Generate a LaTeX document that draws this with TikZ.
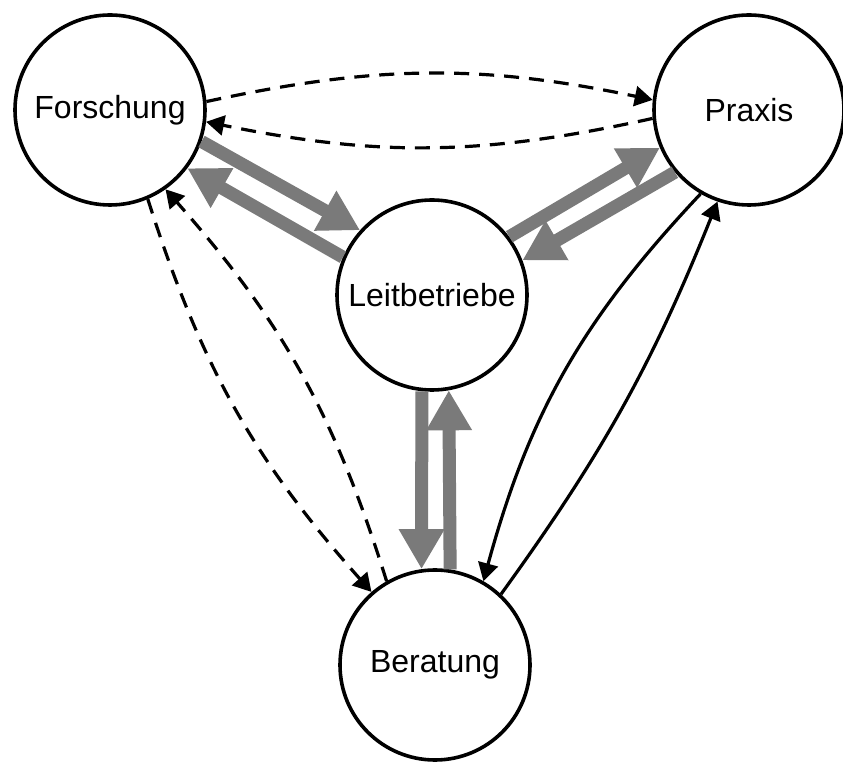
\documentclass[tikz,border=0pt]{standalone}
\usepackage{fontspec}
\setmainfont{Liberation Sans}
\usetikzlibrary{arrows.meta}
\definecolor{mygrey}{RGB}{122,122,122}

\begin{document}
\begin{tikzpicture}
    [x=1pt,y=1pt,
     actor/.style={circle,draw,line width=3.6pt,minimum size=190pt,inner sep=0pt,
                   font=\fontsize{32}{38}\selectfont},
     transfer/.style={mygrey,line width=13pt,-{Triangle[length=40pt,width=43pt]}},
     link/.style={line width=3.2pt,-{Triangle[length=18pt,width=20pt]}},
     exchange/.style={link,dash pattern=on 15pt off 10pt}]

    \node[actor] (forschung) at (110,653) {Forschung};
    \node[actor] (praxis) at (749,653) {Praxis};
    \node[actor] (leit) at (432,468) {Leitbetriebe};
    \node[actor] (beratung) at (435,98) {Beratung};

    % grey, through Leitbetriebe
    \draw[transfer] (forschung.-19.5) -- (leit.138.7);
    \draw[transfer] (leit.157.6) -- (forschung.-37);
    \draw[transfer] (leit.37.4) -- (praxis.203.1);
    \draw[transfer] (praxis.220.7) -- (leit.21.7);
    \draw[transfer] (leit.-96.4) -- (beratung.98.6);
    \draw[transfer] (beratung.81.5) -- (leit.-80.2);

    % dashed, Forschung
    \draw[exchange] (forschung.5.9) to[bend left=12] (praxis.174.9);
    \draw[exchange] (praxis.185.7) to[bend left=12] (forschung.-7);
    \draw[exchange] (forschung.-67.8) to[bend right=12] (beratung.131);
    \draw[exchange] (beratung.120.3) to[bend right=12] (forschung.-55.2);

    % solid, Praxis - Beratung
    \draw[link] (praxis.240.2) to[bend right=14] (beratung.60.2);
    \draw[link] (beratung.47.1) to[bend right=7] (praxis.251.8);

    \pgfresetboundingbox
    \useasboundingbox (0,0) rectangle (843,763);
\end{tikzpicture}
\end{document}
